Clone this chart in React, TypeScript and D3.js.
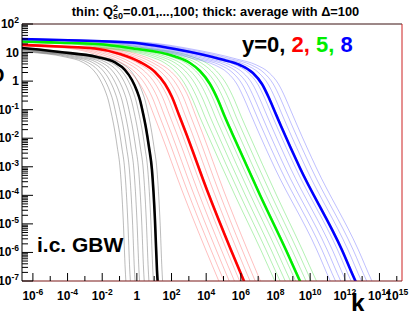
import * as d3 from "d3";

const FONT = "'Liberation Sans', Arial, Helvetica, sans-serif";

// axis ranges
const kDomain: [number, number] = [2.35e-7, 2e15];
const phiDomain: [number, number] = [1e-7, 100];

// tick label exponents
const xLabelExps = [-6, -4, -2, 0, 2, 4, 6, 8, 10, 12, 14, 15];
const yLabelExps = [2, 1, 0, -1, -2, -3, -4, -5, -6, -7];

// thick curves: average with Delta=100 (k, phi)
const kY0 = [1.26e-8, 2.34e-7, 3.66e-5, 4.99e-3, 0.0545, 0.206, 0.521, 1.01, 1.51, 2.25, 3.35, 4.99, 7.43, 11.07, 14.45, 18.8];
const phiY0 = [16.3, 14.45, 10.46, 6.99, 4.49, 2.45, 1.094, 0.451, 0.218, 0.0766, 0.0229, 4.94e-3, 7.73e-4, 1.37e-5, 2.43e-7, 2.17e-8];

const kY2 = [1.26e-8, 3.66e-5, 3.82e-3, 0.106, 1.51, 11.1, 41.9, 106, 269, 681, 1.11e4, 2.69e5, 1.51e6, 4.38e6];
const phiY2 = [20, 16.3, 13.9, 8.9, 4.67, 2.08, 0.792, 0.278, 0.0651, 0.01526, 1.54e-4, 1.22e-6, 1.0e-7, 2.17e-8];

const kY5 = [1.26e-8, 2.34e-7, 3.66e-5, 4.99e-3, 0.4, 158, 1160, 4380, 1.65e4, 4.79e4, 1.21e5, 3.08e5, 1.27e7, 4.02e8, 2.58e9, 9.75e9];
const phiY5 = [25.4, 24.4, 22.1, 19.9, 14.4, 7.28, 4.31, 2.26, 0.793, 0.218, 0.0554, 0.01526, 1.03e-4, 1.22e-6, 1.0e-7, 1.85e-8];

const kY8 = [1.26e-8, 2.34e-7, 3.66e-5, 0.4, 158, 6.24e4, 8.9e5, 5.0e6, 1.66e7, 4.2e7, 9.31e7, 2.07e8, 2.58e9, 6.84e11, 4.11e12, 1.45e13];
const phiY8 = [31, 29.9, 27.5, 22.5, 13.3, 5.95, 3.67, 1.92, 0.793, 0.256, 0.083, 0.0268, 9.08e-4, 1.22e-6, 1.0e-7, 2.17e-8];

// thin curves: Q_s0^2 = 0.01,...,100, as shifts of log10 k relative to the thick line
const shiftY0 = [-1.83, -1.57, -1.3, -1.04, -0.77, -0.5, -0.24, 0.03, 0.29];
const shiftY2 = [-1.45, -1.15, -0.85, -0.55, -0.25, 0.05, 0.35, 0.65, 0.95];
const shiftY5 = [-1.45, -1.15, -0.85, -0.55, -0.25, 0.05, 0.35, 0.65, 0.95];
const shiftY8 = [-1.45, -1.15, -0.85, -0.55, -0.25, 0.05, 0.35, 0.65, 0.95];

const rapidities = ["0", "2", "5", "8"];
const thickColors = ["#000000", "#ff0000", "#00ee00", "#0000ff"];
const thinColors = ["#555555", "#ff6060", "#40dd40", "#6060ff"];

const series = [
  { k: kY0, phi: phiY0, shifts: shiftY0 },
  { k: kY2, phi: phiY2, shifts: shiftY2 },
  { k: kY5, phi: phiY5, shifts: shiftY5 },
  { k: kY8, phi: phiY8, shifts: shiftY8 },
];

const left = 22, right = 402, top = 24, bottom = 281;

function Pow10({ e }: { e: number }) {
  if (e === 0) return <>1</>;
  if (e === 1) return <>10</>;
  return (
    <>
      10
      <tspan dy={-5} fontSize={8.5}>
        {e}
      </tspan>
    </>
  );
}

export default function App() {
  const x = d3.scaleLog().domain(kDomain).range([left, right]);
  const y = d3.scaleLog().domain(phiDomain).range([bottom, top]);

  const line = d3
    .line<[number, number]>()
    .x((d) => x(d[0]))
    .y((d) => y(d[1]))
    .curve(d3.curveMonotoneX);

  // ticks
  const yMajor = d3.range(-7, 3).map((e) => Math.pow(10, e));
  const yMinor: number[] = [];
  yMajor.forEach((v) => {
    if (v < 100) for (let m = 2; m <= 9; m++) yMinor.push(v * m);
  });
  const xDecades = d3.range(-6, 16);

  return (
    <svg
      width={409}
      height={311}
      style={{ position: "absolute", left: 0, top: 0, background: "#fff" }}
      fontFamily={FONT}
    >
      <defs>
        <clipPath id="frame">
          <rect x={left} y={top} width={right - left} height={bottom - top} />
        </clipPath>
      </defs>

      {/* title */}
      <text x={215.5} y={16} textAnchor="middle" fontSize={12.8} fontWeight="bold">
        thin: Q
        <tspan dy={-5} fontSize={9}>2</tspan>
        <tspan dx={-5} dy={8} fontSize={9}>s0</tspan>
        <tspan dy={-3}>=0.01,...,100; thick: average with Δ=100</tspan>
      </text>

      {/* curves */}
      <g clipPath="url(#frame)" fill="none">
        {series.map((s, i) =>
          s.shifts.map((sh, j) => (
            <path
              key={`thin-${i}-${j}`}
              d={line(s.k.map((k, n) => [k * Math.pow(10, sh), s.phi[n]] as [number, number])) ?? ""}
              stroke={thinColors[i]}
              strokeOpacity={0.5}
              strokeWidth={0.8}
            />
          ))
        )}
        {series.map((s, i) => (
          <path
            key={`thick-${i}`}
            d={line(s.k.map((k, n) => [k, s.phi[n]] as [number, number])) ?? ""}
            stroke={thickColors[i]}
            strokeWidth={2.6}
          />
        ))}
      </g>

      {/* frame */}
      <line x1={left} x2={right} y1={top} y2={top} stroke="#3a1010" strokeWidth={1} />
      <line x1={right} x2={right} y1={top} y2={bottom} stroke="#cc2020" strokeWidth={1} />
      <line x1={left} x2={right} y1={bottom} y2={bottom} stroke="#7a1818" strokeWidth={1.2} />
      <line x1={left} x2={left} y1={top} y2={bottom} stroke="#000" strokeWidth={1} />

      {/* y ticks */}
      {yMajor.map((v) => (
        <line key={`ym${v}`} x1={left} x2={left + 11} y1={y(v)} y2={y(v)} stroke="#000" />
      ))}
      {yMinor.map((v) => (
        <line key={`yn${v}`} x1={left} x2={left + 6} y1={y(v)} y2={y(v)} stroke="#000" />
      ))}
      {yLabelExps.map((e) => (
        <text key={`yl${e}`} x={19} y={y(Math.pow(10, e)) + 4} textAnchor="end" fontSize={12} fontWeight="bold">
          <Pow10 e={e} />
        </text>
      ))}

      {/* x ticks */}
      {xDecades.map((e) => (
        <line
          key={`xt${e}`}
          x1={x(Math.pow(10, e))}
          x2={x(Math.pow(10, e))}
          y1={bottom}
          y2={bottom - (e % 2 === 0 ? 8 : 5)}
          stroke="#000"
        />
      ))}
      {xLabelExps.map((e) => (
        <text key={`xl${e}`} x={x(Math.pow(10, e))} y={300} textAnchor="middle" fontSize={12} fontWeight="bold">
          <Pow10 e={e} />
        </text>
      ))}

      {/* axis titles */}
      <text x={351} y={312} fontSize={25} fontWeight="bold">k</text>
      <text x={-10} y={82} fontSize={20} fontWeight="bold">D</text>

      {/* labels */}
      <text x={37} y={252} fontSize={21} fontWeight="bold">i.c. GBW</text>
      <text x={242} y={52} fontSize={22} fontWeight="bold">
        {rapidities.map((r, i) => (
          <tspan key={r} fill={thickColors[i]}>
            {i === 0 ? "y=" : " "}
            {r}
            {i < rapidities.length - 1 ? "," : ""}
          </tspan>
        ))}
      </text>
    </svg>
  );
}
